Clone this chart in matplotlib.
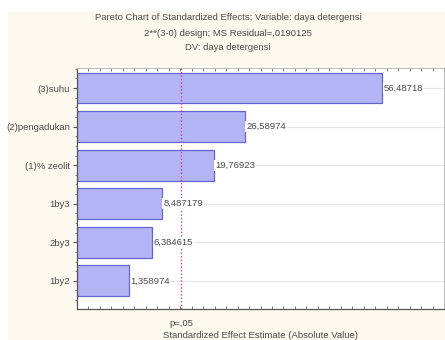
import numpy as np
import matplotlib
matplotlib.use("Agg")
import matplotlib.pyplot as plt
from matplotlib.patches import Rectangle
from matplotlib.ticker import MultipleLocator, FixedLocator

plt.rcParams['font.family'] = ['Liberation Sans', 'DejaVu Sans']

# effects, sorted by size (largest on top)
effects = ["(3)suhu", "(2)pengadukan", "(1)% zeolit", "1by3", "2by3", "1by2"]
t_values = [56.48718, 26.58974, 19.76923, 8.487179, 6.384615, 1.358974]
value_labels = ["56,48718", "26,58974", "19,76923", "8,487179", "6,384615", "1,358974"]
p_crit = 12.706   # t(0.975, df=1)

x_min, x_max = -10, 70
txt = "#4a4a4a"
fs = 6.8

fig = plt.figure(figsize=(4.45, 3.4), dpi=100, facecolor="white")
fig.patches.append(Rectangle((8 / 445, 0), 1, 1 - 11 / 340, transform=fig.transFigure,
                             facecolor="#fdf9ee", edgecolor="none", zorder=-10))

ax = fig.add_axes([77 / 445, 1 - 309 / 340, 367 / 445, 241 / 340])
ax.set_facecolor("white")

pos = np.arange(len(effects))
ax.barh(pos, np.array(t_values) - x_min, left=x_min, height=0.8,
        color="#b3b4f4", edgecolor="#6464d2", linewidth=0.9, zorder=2)

for y in pos:
    ax.axhline(y, color="#e4e4e4", lw=0.8, zorder=0)

for y, v, s in zip(pos, t_values, value_labels):
    ax.text(v + 0.3, y, s, va="center", ha="left", fontsize=fs, color=txt, zorder=4,
            bbox=dict(facecolor="white", edgecolor="none", pad=0.6))

ax.axvline(p_crit, color="#d0408c", lw=1.0, ls=(0, (1, 1.5)), zorder=3)

ax.set_xlim(x_min, x_max)
ax.set_ylim(5.73, -0.52)

ax.set_yticks(pos)
ax.set_yticklabels(effects, fontsize=fs, color=txt)
ax.yaxis.set_minor_locator(MultipleLocator(0.25))
ax.tick_params(axis="y", which="major", length=3, color="#555555", pad=2)
ax.tick_params(axis="y", which="minor", length=1.5, color="#777777")
ax.tick_params(axis="y", which="both", right=True, direction="out")

ax.xaxis.set_major_locator(FixedLocator([p_crit]))
ax.set_xticklabels(["p=,05"], fontsize=fs, color=txt)
ax.xaxis.set_minor_locator(MultipleLocator(2.5))
ax.tick_params(axis="x", which="major", length=0, pad=7)
ax.tick_params(axis="x", which="minor", length=2, direction="in", color="#666666",
               top=True, bottom=True)

for side in ["left", "bottom"]:
    ax.spines[side].set_color("#555555")
    ax.spines[side].set_linewidth(0.9)
for side in ["top", "right"]:
    ax.spines[side].set_color("#bbbbbb")
    ax.spines[side].set_linewidth(0.7)

ax.set_xlabel("Standardized Effect Estimate (Absolute Value)", fontsize=fs,
              color=txt, labelpad=2)

fig.text(228 / 445, 1 - 18 / 340, "Pareto Chart of Standardized Effects; Variable: daya detergensi",
         ha="center", va="center", fontsize=fs, color=txt)
fig.text(228 / 445, 1 - 33 / 340, "2**(3-0) design; MS Residual=,0190125",
         ha="center", va="center", fontsize=fs, color=txt)
fig.text(228 / 445, 1 - 47 / 340, "DV: daya detergensi",
         ha="center", va="center", fontsize=fs, color=txt)

fig.savefig("out.png", dpi=100, facecolor=fig.get_facecolor())
